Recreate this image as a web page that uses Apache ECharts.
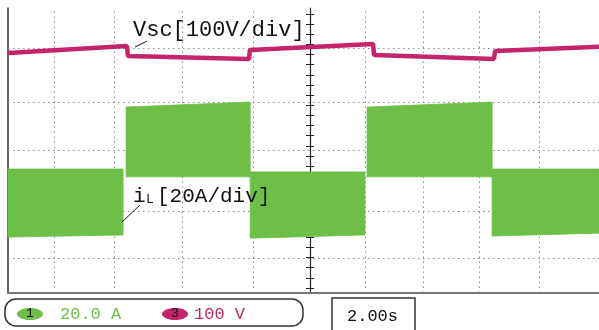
<!DOCTYPE html>
<html>
<head>
<meta charset="utf-8"/>
<title>Vsc / iL waveform</title>
<script src="https://cdn.jsdelivr.net/npm/echarts@6/dist/echarts.min.js"></script>
</head>
<body style="margin:0;background:#fff">
<div id="scope" style="width:599px;height:330px"></div>
<script>
// time in s (2.00 s/div), levels in divisions counted from the bottom of the screen
var vscTime  = [0, 3.94, 3.97, 7.98, 8.01, 12.09, 12.12, 16.09, 16.13, 19.57];
var vscLevel = [6.74, 6.93, 6.65, 6.57, 6.82, 6.99, 6.68, 6.57, 6.79, 6.91];

// iL is a dense ripple, drawn as its envelope, one piece per switching state
var iLStart     = [0, 3.91, 8.02, 11.89, 16.03];
var iLEnd       = [3.81, 8.02, 11.82, 16.03, 19.57];
var iLTopStart  = [3.48, 5.22, 3.40, 5.22, 3.48];
var iLTopEnd    = [3.48, 5.36, 3.40, 5.36, 3.48];
var iLLowStart  = [1.57, 3.26, 1.54, 3.26, 1.60];
var iLLowEnd    = [1.63, 3.26, 1.63, 3.26, 1.68];

// dotted graticule
var gridX = [1.52, 3.51, 5.76, 8.11, 11.82, 13.74, 15.60, 17.58];
var gridY = [6.88, 5.36, 4.01, 2.30, 0.98];

var centerTicks = [];
for (var k = 0; k < 28; k++) centerTicks.push(+(0.14 + k * 0.285).toFixed(3));

var green = '#6dbf47';
var pink = '#c4246b';
var monoFont = 'Liberation Mono';

function pairs(xs, ys) {
    return xs.map(function (x, i) { return [x, ys[i]]; });
}

var iLPieces = iLStart.map(function (t, i) {
    return [t, iLTopStart[i], iLLowStart[i], iLEnd[i], iLTopEnd[i], iLLowEnd[i]];
});

var chart = echarts.init(document.getElementById('scope'));

var helperAxis = {
    type: 'value', min: 0, max: 8, position: 'left', offset: -302,
    axisLabel: { show: false }, splitLine: { show: false }
};

chart.setOption({
    animation: false,
    grid: { left: 8, right: 0, top: 8, bottom: 37 },
    xAxis: [{
        type: 'value', min: 0, max: 19.57, position: 'bottom',
        axisLine: { lineStyle: { color: '#7a7a7a', width: 2 } },
        axisTick: { show: false }, axisLabel: { show: false }, splitLine: { show: false }
    }, {
        type: 'value', min: 0, max: 19.57, position: 'top',
        axisLine: { lineStyle: { color: '#777', width: 1.5 } },
        axisTick: { show: false }, axisLabel: { show: false }, splitLine: { show: false }
    }],
    yAxis: [{
        type: 'value', min: 0, max: 8, position: 'left',
        axisLine: { lineStyle: { color: '#333', width: 1.5 } },
        axisTick: { show: false }, axisLabel: { show: false }, splitLine: { show: false }
    }, Object.assign({}, helperAxis, {
        axisLine: { show: true, lineStyle: { color: '#222', width: 1.2 } },
        axisTick: { show: true, length: 4, customValues: centerTicks, lineStyle: { color: '#222' } }
    }), Object.assign({}, helperAxis, {
        axisLine: { show: false },
        axisTick: { show: true, inside: true, length: 4, customValues: centerTicks, lineStyle: { color: '#222' } }
    })],
    series: [{
        name: 'iL',
        type: 'custom',
        data: iLPieces,
        encode: { x: [0, 3], y: [1, 2, 4, 5] },
        z: 3,
        renderItem: function (params, api) {
            var a = api.coord([api.value(0), api.value(1)]);
            var b = api.coord([api.value(3), api.value(4)]);
            var c = api.coord([api.value(3), api.value(5)]);
            var d = api.coord([api.value(0), api.value(2)]);
            return {
                type: 'polygon',
                shape: { points: [a, b, c, d] },
                style: { fill: green, stroke: green, lineWidth: 0.8 }
            };
        },
        markLine: {
            silent: true,
            symbol: 'none',
            z: 1,
            label: { show: false },
            lineStyle: { color: '#8c8c8c', width: 1, type: [1.5, 3.5] },
            data: gridX.map(function (x) { return { xAxis: x }; })
                .concat(gridY.map(function (y) { return { yAxis: y }; }))
        }
    }, {
        name: 'Vsc',
        type: 'line',
        data: pairs(vscTime, vscLevel),
        symbol: 'none',
        lineStyle: { color: pink, width: 4.5 },
        z: 4
    }],
    graphic: [
        { type: 'line', z: 100, shape: { x1: 135, y1: 47, x2: 147, y2: 41 }, style: { stroke: '#111', lineWidth: 1 } },
        { type: 'text', z: 100, style: { text: 'Vsc[100V/div]', x: 133, y: 30, font: '22px ' + monoFont, fill: '#111', textAlign: 'left', textVerticalAlign: 'middle' } },
        { type: 'line', z: 100, shape: { x1: 122, y1: 222, x2: 140, y2: 205 }, style: { stroke: '#111', lineWidth: 1 } },
        { type: 'text', z: 100, style: { text: 'i', x: 133, y: 196, font: '21px ' + monoFont, fill: '#111', textAlign: 'left', textVerticalAlign: 'middle' } },
        { type: 'text', z: 100, style: { text: 'L', x: 146, y: 200, font: '13px ' + monoFont, fill: '#111', textAlign: 'left', textVerticalAlign: 'middle' } },
        { type: 'text', z: 100, style: { text: '[20A/div]', x: 157, y: 196, font: '21px ' + monoFont, fill: '#111', textAlign: 'left', textVerticalAlign: 'middle' } },

        { type: 'rect', z: 100, shape: { x: 5, y: 299, width: 298, height: 27, r: 11 }, style: { fill: '#fff', stroke: '#333', lineWidth: 1.5 } },
        { type: 'ellipse', z: 101, shape: { cx: 30, cy: 314, rx: 13, ry: 6 }, style: { fill: green } },
        { type: 'text', z: 102, style: { text: '1', x: 30, y: 314, font: '13px ' + monoFont, fill: '#111', textAlign: 'center', textVerticalAlign: 'middle' } },
        { type: 'text', z: 101, style: { text: '20.0 A', x: 60, y: 314, font: '17px ' + monoFont, fill: green, textAlign: 'left', textVerticalAlign: 'middle' } },
        { type: 'ellipse', z: 101, shape: { cx: 175, cy: 314, rx: 13, ry: 6 }, style: { fill: pink } },
        { type: 'text', z: 102, style: { text: '3', x: 175, y: 314, font: '13px ' + monoFont, fill: '#111', textAlign: 'center', textVerticalAlign: 'middle' } },
        { type: 'text', z: 101, style: { text: '100 V', x: 194, y: 314, font: '17px ' + monoFont, fill: pink, textAlign: 'left', textVerticalAlign: 'middle' } },

        { type: 'rect', z: 100, shape: { x: 332, y: 298, width: 83, height: 40 }, style: { fill: '#fff', stroke: '#333', lineWidth: 1.5 } },
        { type: 'text', z: 101, style: { text: '2.00s', x: 347, y: 316, font: '17px ' + monoFont, fill: '#111', textAlign: 'left', textVerticalAlign: 'middle' } }
    ]
});
</script>
</body>
</html>
